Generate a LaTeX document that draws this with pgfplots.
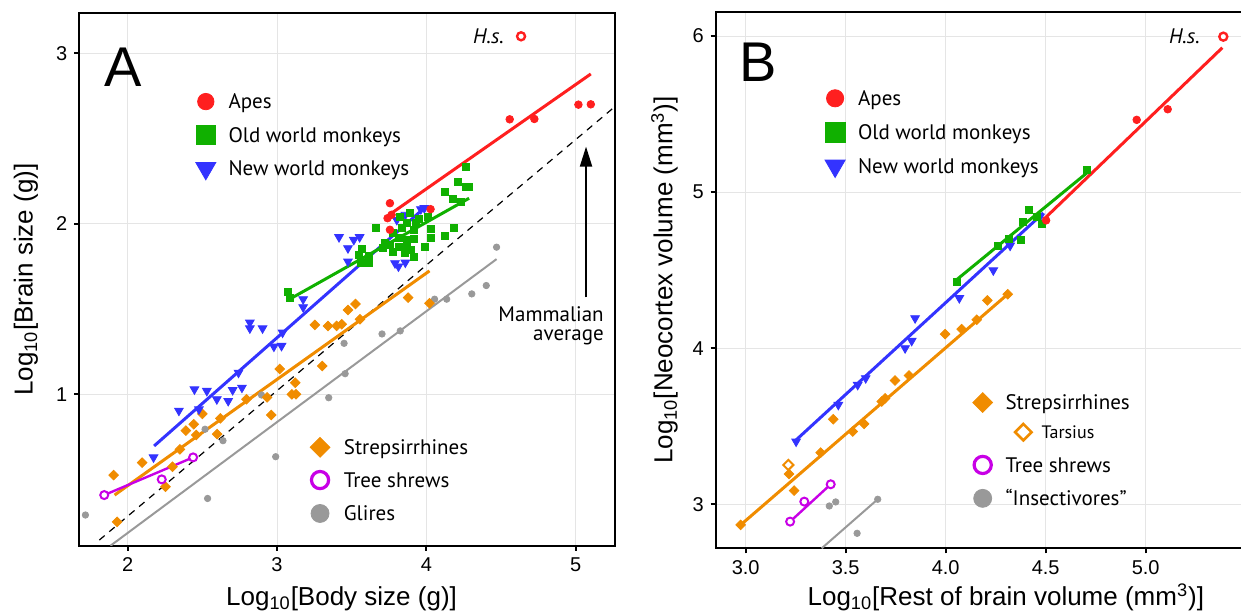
\documentclass[border=0pt]{standalone}
\usepackage{fontspec}
\setmainfont{Liberation Sans}
\newfontfamily\myriad{PT Sans}
\usepackage{pgfplots}
\pgfplotsset{compat=1.18}
\usetikzlibrary{arrows.meta}

\definecolor{apes}{HTML}{FF1F1F}
\definecolor{owm}{HTML}{10B000}
\definecolor{nwm}{HTML}{3333FF}
\definecolor{strep}{HTML}{F08C00}
\definecolor{shrew}{HTML}{C800E6}
\definecolor{glires}{HTML}{999999}

\pgfplotsset{
  panel/.style={
    scale only axis, anchor=south west,
    axis line style={line width=1pt},
    tick align=outside, major tick length=2.5pt,
    every tick/.style={black, line width=1pt},
    xtick pos=left, ytick pos=left,
    grid=major, grid style={black!10, line width=0.5pt},
    tick label style={font=\fontsize{10}{12}\selectfont},
    /pgf/number format/assume math mode=true,
    label style={font=\fontsize{13}{15}\selectfont},
  },
  ape/.style={only marks, mark=*, mark size=1.9pt, color=apes},
  ow/.style={only marks, mark=square*, mark size=1.75pt, color=owm},
  nw/.style={only marks, mark=triangle*, mark size=2.5pt, color=nwm, mark options={rotate=180}},
  st/.style={only marks, mark=square*, mark size=1.7pt, color=strep, mark options={rotate=45}},
  ts/.style={only marks, mark=*, mark size=2pt, color=shrew, mark options={fill=white, line width=1pt}},
  gl/.style={only marks, mark=*, mark size=1.6pt, color=glires},
  fit/.style={no marks, line width=1.5pt, color=#1},
}
\tikzset{
  lg/.style={font=\myriad\fontsize{10.5}{12}\selectfont, inner sep=0pt, anchor=west, text height=7.4pt, text depth=0pt},
  big/.style={font=\fontsize{28}{30}\selectfont, inner sep=0pt},
}

\begin{document}
\begin{tikzpicture}
% ---------------- Panel A ----------------
\begin{axis}[panel, at={(39.65pt,33.65pt)}, width=267.85pt, height=266.2pt,
  xmin=1.676, xmax=5.263, ymin=0.112, ymax=3.235,
  xtick={2,3,4,5}, ytick={1,2,3},
  xlabel={Log\textsubscript{10}[Body size (g)]},
  ylabel={Log\textsubscript{10}[Brain size (g)]},
  xlabel style={at={(axis description cs:0.4895,-0.1114)}, anchor=base},
  ylabel style={at={(axis description cs:-0.0995,0.5)}, anchor=center},
]
% mammalian average
\addplot[no marks, black, line width=0.6pt, dash pattern=on 3.5pt off 3pt] coordinates {(1.81,0.145) (5.263,2.688)};
% Glires
\addplot[gl] coordinates {(1.717,0.292) (2.518,0.795) (2.638,0.728) (2.535,0.389) (2.991,0.634)
  (2.896,0.996) (3.346,0.980) (3.449,1.299) (3.456,1.121) (3.703,1.354) (3.825,1.372)
  (4.055,1.558) (4.136,1.558) (4.304,1.589) (4.401,1.638) (4.470,1.863)};
\addplot[fit=glires, line width=1pt] coordinates {(1.885,0.112) (4.470,1.793)};
% Strepsirrhines
\addplot[st] coordinates {(1.906,0.526) (1.929,0.252) (2.097,0.599) (2.300,0.575) (2.253,0.458)
  (2.350,0.677) (2.389,0.787) (2.442,0.824) (2.459,0.761) (2.500,0.885) (2.599,0.767)
  (2.620,0.859) (2.795,0.971) (2.933,0.982) (2.961,0.879) (3.018,1.149) (3.099,1.000)
  (3.127,1.000) (3.122,1.068) (3.302,1.166) (3.253,1.407) (3.341,1.401) (3.399,1.401)
  (3.433,1.411) (3.475,1.495) (3.525,1.530) (3.555,1.440) (3.878,1.567) (4.021,1.534)};
\addplot[fit=strep] coordinates {(1.912,0.409) (4.021,1.724)};
% Tree shrews
\addplot[fit=shrew, line width=1.2pt] coordinates {(1.843,0.409) (2.438,0.630)};
\addplot[ts] coordinates {(1.843,0.409) (2.228,0.501) (2.438,0.630)};
% New world monkeys
\addplot[nw] coordinates {(3.415,1.922) (3.475,1.857) (3.514,1.906) (3.553,1.922) (3.475,1.779)
  (3.175,1.558) (3.175,1.511) (2.818,1.421) (2.818,1.387) (2.903,1.387) (3.037,1.362)
  (2.979,1.280) (3.030,1.284) (2.742,1.127) (2.447,1.029) (2.530,1.020) (2.597,0.971)
  (2.673,0.961) (2.703,1.025) (2.765,1.039) (2.477,0.912) (2.343,0.904) (2.173,0.630)
  (3.790,1.769) (3.813,1.750) (3.859,1.773) (3.802,2.023) (3.859,2.053) (3.963,2.086) (3.986,2.092)};
\addplot[fit=nwm] coordinates {(2.177,0.697) (3.998,2.102)};
% Old world monkeys
\addplot[ow] coordinates {(4.265,2.336) (4.212,2.244) (4.263,2.219) (4.286,2.215) (4.124,2.186)
  (4.177,2.146) (4.228,2.131) (3.659,1.977) (3.825,2.043) (3.889,2.063) (3.952,2.029)
  (4.009,2.043) (3.871,2.004) (3.929,2.008) (4.028,1.969) (4.182,1.975) (4.124,1.930)
  (4.028,1.916) (3.993,1.863) (3.917,1.965) (3.836,1.975) (3.779,1.945) (3.813,1.916)
  (3.871,1.906) (3.917,1.910) (3.721,1.891) (3.756,1.877) (3.813,1.867) (3.871,1.877)
  (3.894,1.848) (3.859,1.828) (3.917,1.805) (3.779,1.838) (3.710,1.857) (3.571,1.852)
  (3.548,1.818) (3.618,1.809) (3.618,1.773) (3.560,1.770) (3.076,1.603) (3.088,1.564)};
\addplot[fit=owm] coordinates {(3.076,1.554) (4.286,2.150)};
% Apes
\addplot[ape] coordinates {(4.558,2.613) (4.723,2.615) (5.018,2.699) (5.101,2.701) (3.756,2.121)
  (4.028,2.086) (3.740,2.033) (3.767,2.053) (3.756,1.965)};
\addplot[fit=apes] coordinates {(3.767,2.0625) (5.101,2.879)};
\addplot[only marks, mark=*, mark size=2pt, apes, mark options={fill=white, line width=1.2pt}] coordinates {(4.634,3.100)};
\node[anchor=east, inner sep=0pt, font=\myriad\itshape\fontsize{10.5}{12}\selectfont] at (axis cs:4.521,3.098) {H.s.};
% arrow and label
\draw[-{Triangle[length=10pt,width=6pt]}, line width=1pt] (axis cs:5.069,1.569) -- (axis cs:5.069,2.453);
\node[anchor=east, align=right, inner sep=0pt, font=\myriad\fontsize{10.5}{9.5}\selectfont] at (axis cs:5.19,1.40) {Mammalian\\average};
% legend markers
\addplot[only marks, mark=*, mark size=4.1pt, apes] coordinates {(2.523,2.717)};
\addplot[only marks, mark=square*, mark size=4.9pt, owm] coordinates {(2.523,2.521)};
\addplot[only marks, mark=triangle*, mark size=5.8pt, nwm, mark options={rotate=180}] coordinates {(2.523,2.326)};
\addplot[only marks, mark=square*, mark size=3.5pt, strep, mark options={rotate=45}] coordinates {(3.288,0.689)};
\addplot[only marks, mark=*, mark size=4.3pt, shrew, mark options={fill=white, line width=1.6pt}] coordinates {(3.288,0.497)};
\addplot[only marks, mark=*, mark size=4.5pt, glires] coordinates {(3.288,0.301)};
\node[lg] at (axis cs:2.673,2.717) {Apes};
\node[lg] at (axis cs:2.673,2.521) {Old world monkeys};
\node[lg] at (axis cs:2.673,2.326) {New world monkeys};
\node[lg] at (axis cs:3.445,0.689) {Strepsirrhines};
\node[lg] at (axis cs:3.445,0.497) {Tree shrews};
\node[lg] at (axis cs:3.445,0.301) {Glires};
\node[big] at (axis cs:1.969,2.920) {A};
\end{axis}

% ---------------- Panel B ----------------
\begin{axis}[panel, at={(357.85pt,32.35pt)}, width=290.15pt, height=268.3pt,
  xmin=2.85, xmax=5.7515, ymin=2.718, ymax=6.156,
  xtick={3,3.5,4,4.5,5}, ytick={3,4,5,6},
  xticklabel style={/pgf/number format/fixed, /pgf/number format/fixed zerofill, /pgf/number format/precision=1},
  xlabel={Log\textsubscript{10}[Rest of brain volume (mm\textsuperscript{3})]},
  ylabel={Log\textsubscript{10}[Neocortex volume (mm\textsuperscript{3})]},
  xlabel style={at={(axis description cs:0.5,-0.1057)}, anchor=base},
  ylabel style={at={(axis description cs:-0.0883,0.5)}, anchor=center},
]
% Insectivores
\addplot[gl] coordinates {(3.418,2.989) (3.450,3.015) (3.557,2.814) (3.660,3.032)};
\addplot[fit=glires, line width=1pt] coordinates {(3.38,2.718) (3.660,3.032)};
% Strepsirrhines
\addplot[st] coordinates {(2.975,2.868) (3.217,3.194) (3.242,3.088) (3.375,3.331) (3.438,3.545)
  (3.535,3.466) (3.592,3.515) (3.680,3.658) (3.697,3.679) (3.747,3.793) (3.817,3.825)
  (3.997,4.090) (4.080,4.122) (4.155,4.182) (4.208,4.306) (4.310,4.346)};
\addplot[fit=strep] coordinates {(2.975,2.868) (4.310,4.346)};
\addplot[only marks, mark=square*, mark size=1.8pt, strep, mark options={rotate=45, fill=white, line width=1pt}] coordinates {(3.213,3.252)};
% Tree shrews
\addplot[fit=shrew, line width=1.2pt] coordinates {(3.222,2.889) (3.425,3.128)};
\addplot[ts] coordinates {(3.222,2.889) (3.293,3.017) (3.425,3.128)};
% New world monkeys
\addplot[nw] coordinates {(3.252,3.402) (3.463,3.637) (3.560,3.765) (3.600,3.808) (3.797,4.000)
  (3.830,4.047) (3.847,4.192) (4.068,4.321) (4.238,4.499) (4.322,4.657) (4.472,4.844)};
\addplot[fit=nwm] coordinates {(3.252,3.412) (4.488,4.866)};
% Old world monkeys
\addplot[ow] coordinates {(4.705,5.143) (4.417,4.887) (4.388,4.806) (4.455,4.844) (4.480,4.797)
  (4.317,4.699) (4.375,4.695) (4.263,4.657) (4.055,4.427)};
\addplot[fit=owm] coordinates {(4.055,4.439) (4.705,5.122)};
% Apes
\addplot[ape] coordinates {(4.955,5.463) (5.110,5.531) (4.502,4.819)};
\addplot[fit=apes] coordinates {(4.488,4.823) (5.383,5.925)};
\addplot[only marks, mark=*, mark size=2pt, apes, mark options={fill=white, line width=1.2pt}] coordinates {(5.388,5.996)};
\node[anchor=east, inner sep=0pt, font=\myriad\itshape\fontsize{10.5}{12}\selectfont] at (axis cs:5.272,5.996) {H.s.};
% legend markers
\addplot[only marks, mark=*, mark size=4.3pt, apes] coordinates {(3.447,5.601)};
\addplot[only marks, mark=square*, mark size=5pt, owm] coordinates {(3.447,5.382)};
\addplot[only marks, mark=triangle*, mark size=5.8pt, nwm, mark options={rotate=180}] coordinates {(3.447,5.168)};
\addplot[only marks, mark=square*, mark size=3.5pt, strep, mark options={rotate=45}] coordinates {(4.185,3.652)};
\addplot[only marks, mark=square*, mark size=2.9pt, strep, mark options={rotate=45, fill=white, line width=1.3pt}] coordinates {(4.388,3.462)};
\addplot[only marks, mark=*, mark size=4.3pt, shrew, mark options={fill=white, line width=1.6pt}] coordinates {(4.185,3.252)};
\addplot[only marks, mark=*, mark size=4.5pt, glires] coordinates {(4.185,3.038)};
\node[lg] at (axis cs:3.56,5.601) {Apes};
\node[lg] at (axis cs:3.56,5.382) {Old world monkeys};
\node[lg] at (axis cs:3.56,5.168) {New world monkeys};
\node[lg] at (axis cs:4.297,3.652) {Strepsirrhines};
\node[lg, font=\myriad\fontsize{9}{11}\selectfont, text height=6.3pt] at (axis cs:4.477,3.462) {Tarsius};
\node[lg] at (axis cs:4.297,3.252) {Tree shrews};
\node[lg] at (axis cs:4.297,3.038) {“Insectivores”};
\node[big] at (axis cs:3.063,5.832) {B};
\end{axis}
\pgfresetboundingbox
\path[use as bounding box] (0,0) rectangle (620.5pt,306.5pt);
\end{tikzpicture}
\end{document}
